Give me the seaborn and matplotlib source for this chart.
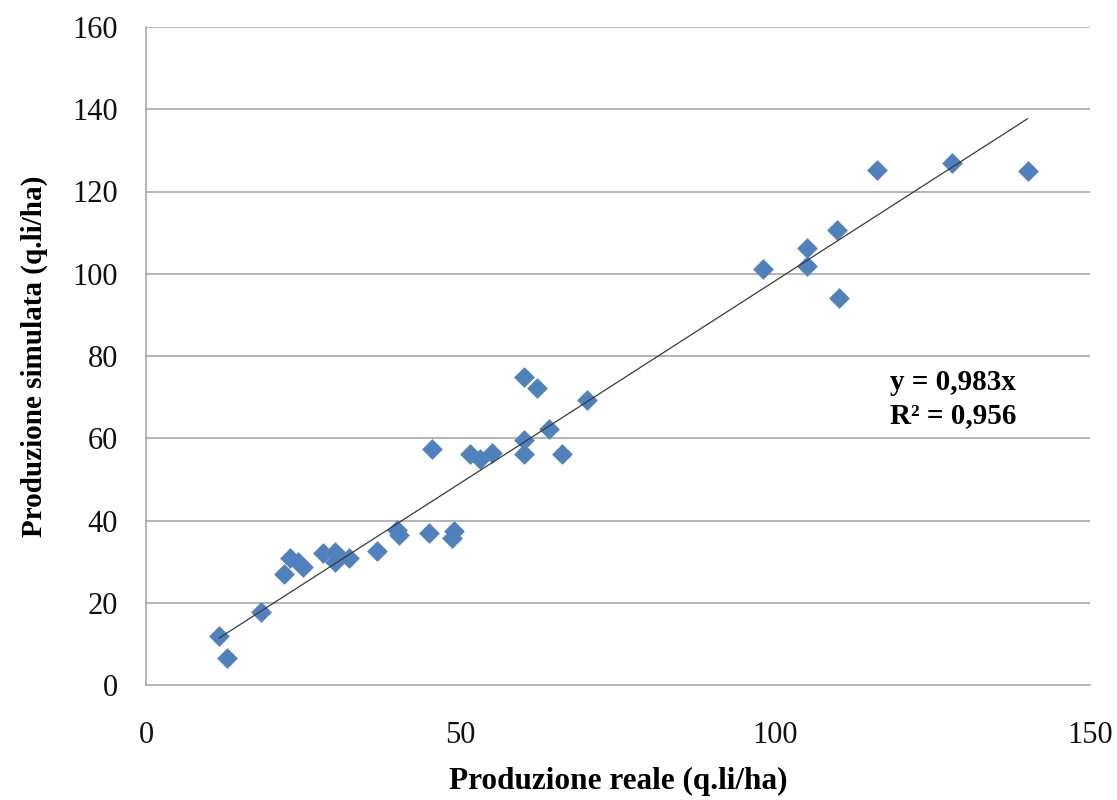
import matplotlib
matplotlib.use("Agg")
import matplotlib.pyplot as plt
import seaborn as sns
import pandas as pd
import numpy as np

# Observed (real) vs simulated production, q.li/ha
produzione_reale = [11.6, 12.9, 18.3, 22.0, 22.9, 24.2, 25.0, 28.2, 30.0, 30.0,
                    32.2, 36.7, 39.9, 40.2, 44.9, 45.4, 48.6, 49.0, 51.5, 53.1,
                    55.0, 60.0, 60.0, 60.0, 62.2, 64.0, 66.1, 70.0, 98.0, 105.0,
                    105.0, 109.8, 110.1, 116.1, 128.1, 140.1]
produzione_simulata = [11.9, 6.6, 17.8, 27.0, 30.8, 30.0, 28.8, 32.0, 32.4, 30.0,
                       31.0, 32.7, 37.7, 36.5, 37.0, 57.5, 35.7, 37.4, 56.1, 55.0,
                       56.5, 75.0, 59.6, 56.2, 72.3, 62.2, 56.1, 69.3, 101.1, 106.2,
                       101.9, 110.6, 94.0, 125.2, 127.0, 125.1]

# Trend line through the origin
slope = 0.983
r_squared = 0.956

x_ticks = [0, 50, 100, 150]
y_ticks = [0, 20, 40, 60, 80, 100, 120, 140, 160]

df = pd.DataFrame({"reale": produzione_reale, "simulata": produzione_simulata})

sns.set_style("white")
plt.rcParams["font.family"] = ["Liberation Serif", "DejaVu Serif"]

fig = plt.figure(figsize=(11.17, 8.0), dpi=100)
ax = fig.add_axes([146 / 1117, 1 - 685 / 800, (1090 - 146) / 1117, (685 - 27) / 800])

# Horizontal gridlines
for yv in y_ticks[1:]:
    ax.axhline(yv, color="#A0A0A0", linewidth=1.1, zorder=0)

sns.scatterplot(data=df, x="reale", y="simulata", marker="D", s=100,
                color="#4F81BD", edgecolor="#5B86C0", linewidth=0.6,
                ax=ax, zorder=3, legend=False)

# Trend line spanning the data range
line_x = np.array([min(produzione_reale), max(produzione_reale)])
line_df = pd.DataFrame({"x": line_x, "y": slope * line_x})
sns.lineplot(data=line_df, x="x", y="y", color="#3A3A3A", linewidth=0.9,
             ax=ax, zorder=4)

ax.set_xlim(0, 150)
ax.set_ylim(0, 160)
ax.set_xticks(x_ticks)
ax.set_yticks(y_ticks)
ax.tick_params(axis="x", length=0, pad=26, labelsize=22, labelcolor="#111111")
ax.tick_params(axis="y", length=0, pad=20, labelsize=22, labelcolor="#111111")

for side in ["top", "right"]:
    ax.spines[side].set_visible(False)
for side in ["left", "bottom"]:
    ax.spines[side].set_color("#A0A0A0")
    ax.spines[side].set_linewidth(1.1)

ax.set_xlabel("Produzione reale (q.li/ha)", fontsize=22.5, fontweight="bold",
              labelpad=12, color="black")
ax.set_ylabel("Produzione simulata (q.li/ha)", fontsize=21, fontweight="bold",
              labelpad=18, color="black")

ax.text(128.2, 69.5, f"y = {slope:.3f}x\nR² = {r_squared:.3f}".replace(".", ","),
        ha="center", va="center", fontsize=21, fontweight="bold",
        linespacing=1.3, zorder=5, color="black")

fig.savefig("out.png", dpi=100)
